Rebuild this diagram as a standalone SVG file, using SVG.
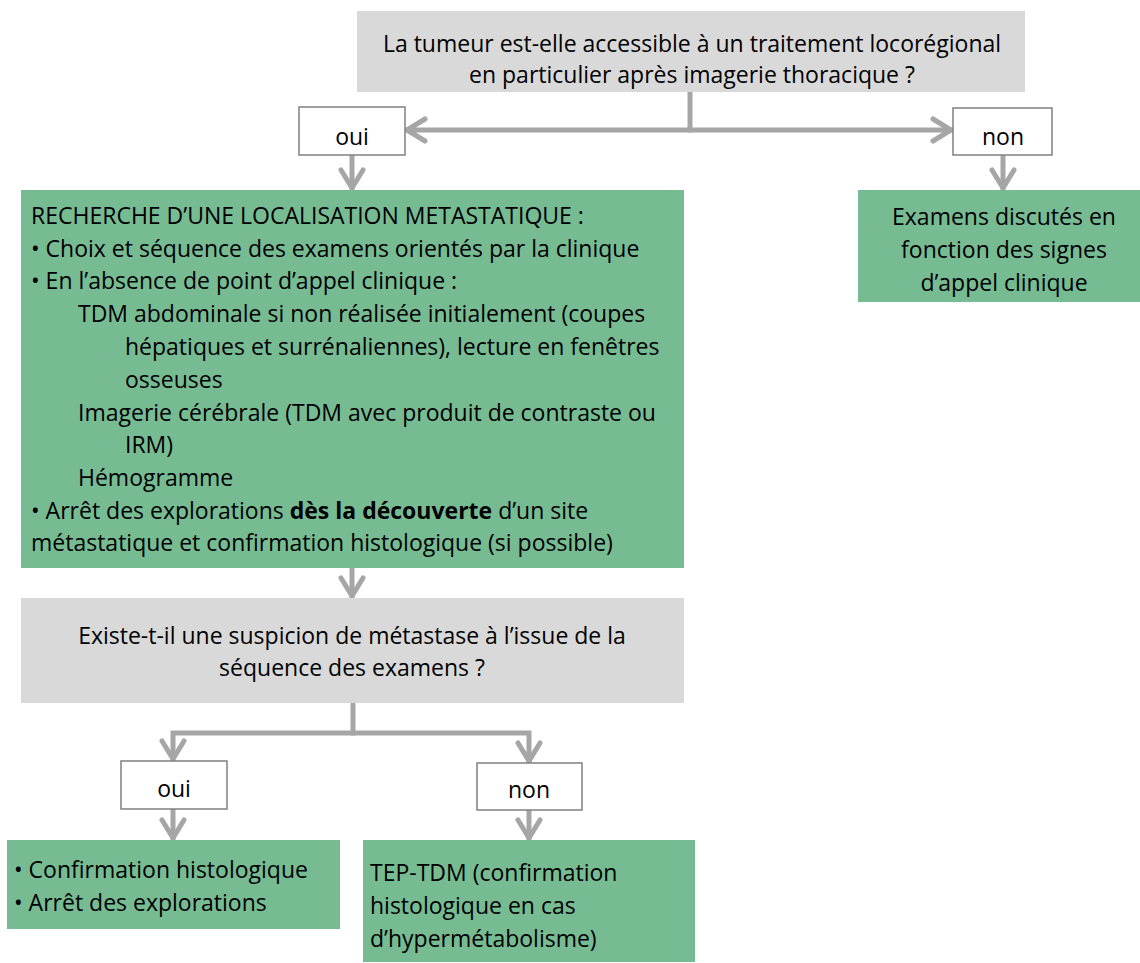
<svg xmlns="http://www.w3.org/2000/svg" width="1140" height="963" viewBox="0 0 1140 963">
<defs>
<style>
.q{fill:#d9d9d9}
.g{fill:#77bb93}
.b{fill:#fff;stroke:#808080;stroke-width:1.5}
text{font-family:"Open Sans","Liberation Sans",sans-serif;font-size:23px;fill:#000}
.c{text-anchor:middle}
.w{font-weight:bold}
.cn{stroke:#a6a6a6;stroke-width:5;fill:none}
</style>
<marker id="ar" markerUnits="userSpaceOnUse" viewBox="0 0 30 30" markerWidth="30" markerHeight="30" refX="24" refY="15" orient="auto">
<path d="M 4 4 L 22 15 L 4 26" fill="none" stroke="#a6a6a6" stroke-width="5" stroke-linecap="round" stroke-linejoin="miter"/>
</marker>
</defs>
<rect width="1140" height="963" fill="#fff"/>
<g id="connectors">
<path class="cn" d="M690 92 V130"/>
<path class="cn" d="M692 130 H405" marker-end="url(#ar)"/>
<path class="cn" d="M688 130 H953" marker-end="url(#ar)"/>
<path class="cn" d="M352 155 V190" marker-end="url(#ar)"/>
<path class="cn" d="M1003 155 V190" marker-end="url(#ar)"/>
<path class="cn" d="M352 568 V598" marker-end="url(#ar)"/>
<path class="cn" d="M353 703 V733"/>
<path class="cn" d="M355 733 H173 V761" marker-end="url(#ar)"/>
<path class="cn" d="M351 733 H529 V763" marker-end="url(#ar)"/>
<path class="cn" d="M173 809 V840" marker-end="url(#ar)"/>
<path class="cn" d="M529 810 V840" marker-end="url(#ar)"/>
</g>
<g id="q1">
<rect class="q" x="357" y="11" width="668" height="81"/>
<text class="c" x="692" y="52">La tumeur est-elle accessible à un traitement locorégional</text>
<text class="c" x="692" y="83">en particulier après imagerie thoracique ?</text>
</g>
<g id="oui1">
<rect class="b" x="299" y="107" width="106" height="48"/>
<text class="c" x="352" y="145">oui</text>
</g>
<g id="non1">
<rect class="b" x="953" y="108" width="99" height="47"/>
<text class="c" x="1003" y="145">non</text>
</g>
<g id="recherche">
<rect class="g" x="21" y="190" width="663" height="378"/>
<text x="31" y="224">RECHERCHE D’UNE LOCALISATION METASTATIQUE :</text>
<text x="31" y="257">• Choix et séquence des examens orientés par la clinique</text>
<text x="31" y="289">• En l’absence de point d’appel clinique :</text>
<text x="78" y="322">TDM abdominale si non réalisée initialement (coupes</text>
<text x="125" y="355">hépatiques et surrénaliennes), lecture en fenêtres</text>
<text x="125" y="388">osseuses</text>
<text x="78" y="421">Imagerie cérébrale (TDM avec produit de contraste ou</text>
<text x="125" y="453">IRM)</text>
<text x="78" y="486">Hémogramme</text>
<text x="31" y="519">• Arrêt des explorations <tspan class="w">dès la découverte</tspan> d’un site</text>
<text x="31" y="551">métastatique et confirmation histologique (si possible)</text>
</g>
<g id="examens">
<rect class="g" x="858" y="190" width="282" height="112"/>
<text class="c" x="1004" y="225">Examens discutés en</text>
<text class="c" x="1004" y="258">fonction des signes</text>
<text class="c" x="1004" y="291">d’appel clinique</text>
</g>
<g id="q2">
<rect class="q" x="21" y="598" width="663" height="105"/>
<text class="c" x="352" y="644">Existe-t-il une suspicion de métastase à l’issue de la</text>
<text class="c" x="352" y="676">séquence des examens ?</text>
</g>
<g id="oui2">
<rect class="b" x="121" y="761" width="106" height="48"/>
<text class="c" x="174" y="797">oui</text>
</g>
<g id="non2">
<rect class="b" x="477" y="763" width="105" height="47"/>
<text class="c" x="529" y="798">non</text>
</g>
<g id="confirmation">
<rect class="g" x="7" y="840" width="333" height="89"/>
<text x="14" y="878">• Confirmation histologique</text>
<text x="14" y="911">• Arrêt des explorations</text>
</g>
<g id="tep">
<rect class="g" x="363" y="840" width="332" height="122"/>
<text x="370" y="881">TEP-TDM (confirmation</text>
<text x="370" y="914">histologique en cas</text>
<text x="370" y="947">d’hypermétabolisme)</text>
</g>
</svg>
